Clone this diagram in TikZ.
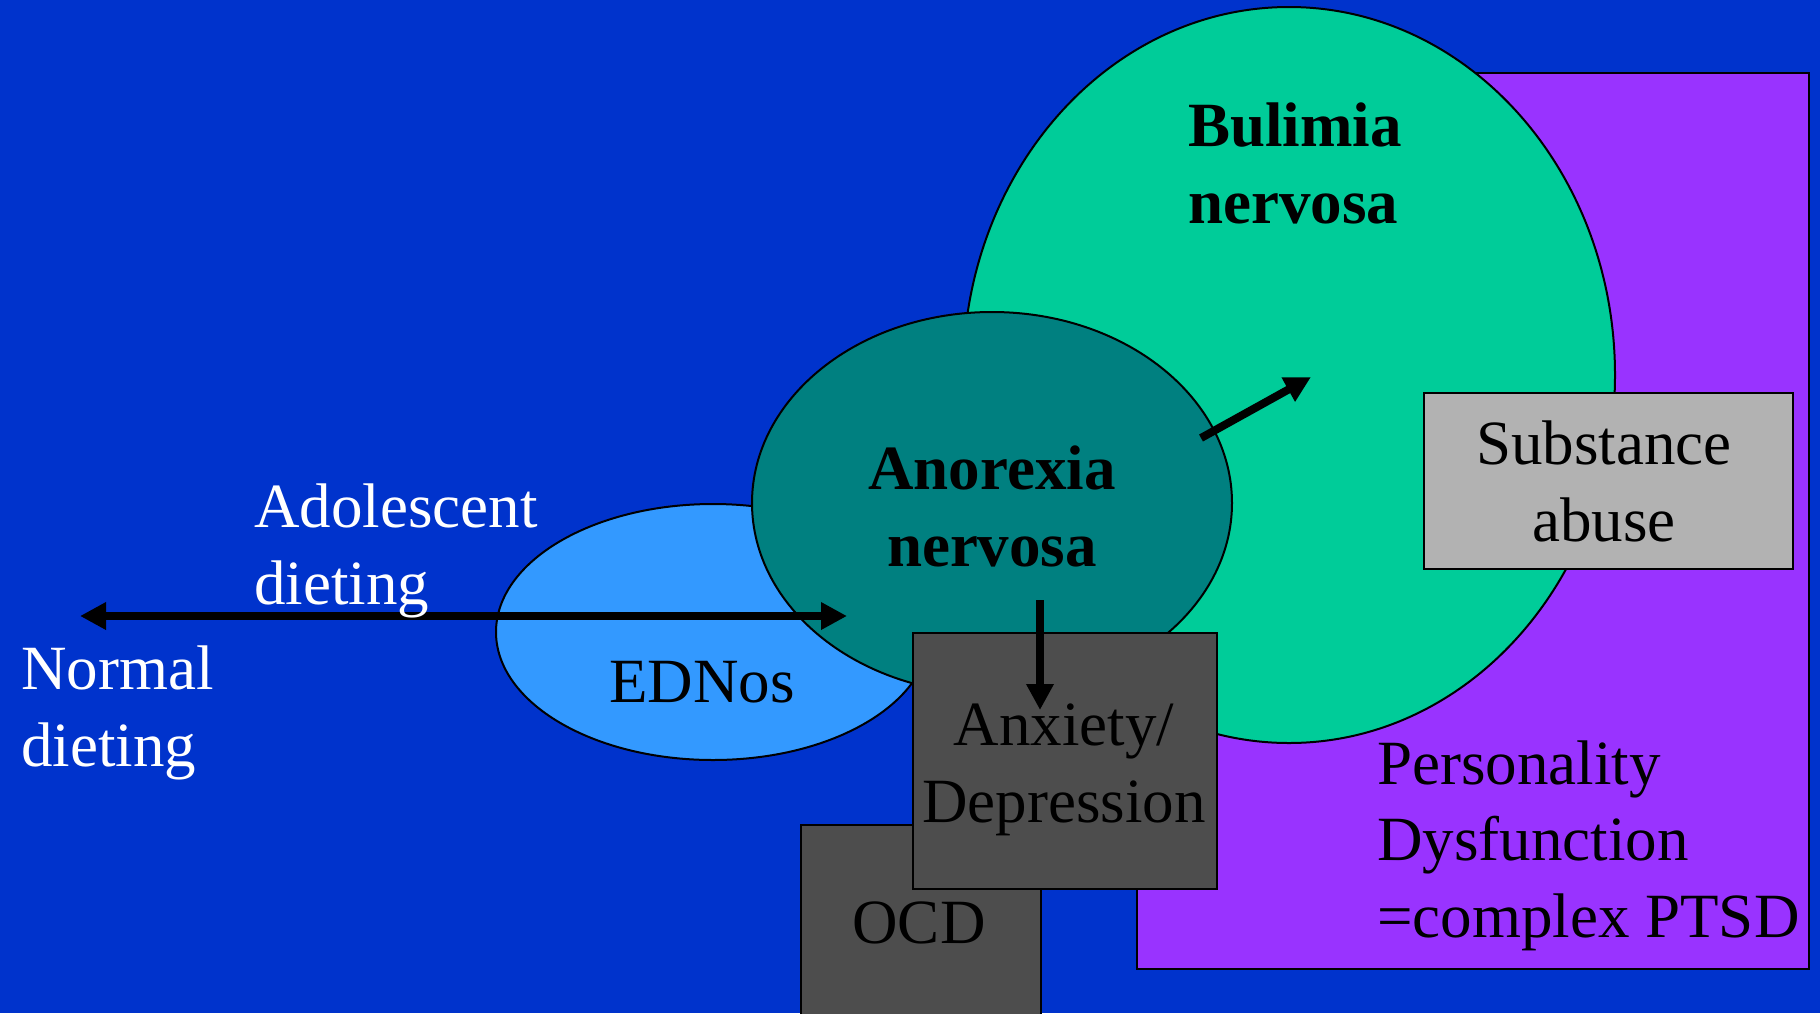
\documentclass[tikz,border=0pt]{standalone}
\usepackage{fontspec}
\setmainfont{Liberation Serif}
\usetikzlibrary{shapes.geometric,arrows.meta}
\definecolor{bg}{HTML}{0033CC}
\definecolor{bulgreen}{HTML}{00CC99}
\definecolor{anoteal}{HTML}{008080}
\definecolor{edblue}{HTML}{3399FF}
\definecolor{pdpurple}{HTML}{9933FF}
\definecolor{darkbox}{HTML}{4D4D4D}
\definecolor{lightbox}{HTML}{B2B2B2}
\begin{document}
\begin{tikzpicture}[x=1pt,y=-1pt,
  outline/.style={draw=black,line width=2pt,inner sep=0pt},
  blob/.style={outline,ellipse},
  panel/.style={outline,rectangle,anchor=north west},
  lbl/.style={font=\fontsize{63}{76.5}\selectfont,inner sep=0pt},
  fat/.style={line width=8pt,-{Triangle[length=26pt,width=26pt]}},
  fatboth/.style={line width=8pt,{Triangle[length=26pt,width=26pt]}-{Triangle[length=26pt,width=26pt]}},
]
\fill[bg] (0,0) rectangle (1820,1013);
\useasboundingbox (0,0) rectangle (1820,1013);

% shapes
\node[panel, fill=pdpurple, minimum width=672pt, minimum height=896pt] (pd) at (1136,72) {};
\node[blob, fill=bulgreen, minimum width=652pt, minimum height=736pt] (bul) at (1289,375) {};
\node[blob, fill=edblue, minimum width=434pt, minimum height=256pt] (ed) at (713,632) {};
\node[blob, fill=anoteal, minimum width=480pt, minimum height=382pt] (ano) at (992,503) {};
\node[panel, fill=lightbox, minimum width=369pt, minimum height=176pt] (sub) at (1423,392) {};
\node[panel, fill=darkbox, minimum width=240pt, minimum height=200pt] (ocd) at (800,824) {};
\node[panel, fill=darkbox, minimum width=304pt, minimum height=256pt] (anx) at (912,632) {};

% arrow ends
\coordinate (hl) at (80,616);
\coordinate (hr) at (847,616);
\coordinate (ds) at (1040,600);
\coordinate (de) at (1040,710);
\coordinate (as) at (1201,438);
\coordinate (ae) at (1311,377);

\draw[fatboth] (hl) -- (hr);
\draw[fat] (ds) -- (de);
\draw[fat] (as) -- (ae);

% labels (anchor = baseline of last line)
\node[lbl, font=\fontsize{63}{76.5}\selectfont\bfseries, anchor=base west, align=left] (tbul) at (1188,223) {Bulimia\\nervosa};
\node[lbl, font=\fontsize{63}{76.5}\selectfont\bfseries, anchor=base, align=center] (tano) at (992,566) {Anorexia\\nervosa};
\node[lbl, text=white, anchor=base west, align=left] (tado) at (254,604) {Adolescent\\dieting};
\node[lbl, text=white, anchor=base west, align=left] (tnor) at (21,766) {Normal\\dieting};
\node[lbl, anchor=base] (ted) at (702,702) {EDNos};
\node[lbl, anchor=base, align=center] (tsub) at (1604,541) {Substance\\abuse};
\node[lbl, anchor=base, align=center] (tanx) at (1064,822) {Anxiety/\\Depression};
\node[lbl, anchor=base] (tocd) at (919,943) {OCD};
\node[lbl, anchor=base west, align=left] (tpd) at (1377,937) {Personality\\Dysfunction\\=complex PTSD};
\end{tikzpicture}
\end{document}
